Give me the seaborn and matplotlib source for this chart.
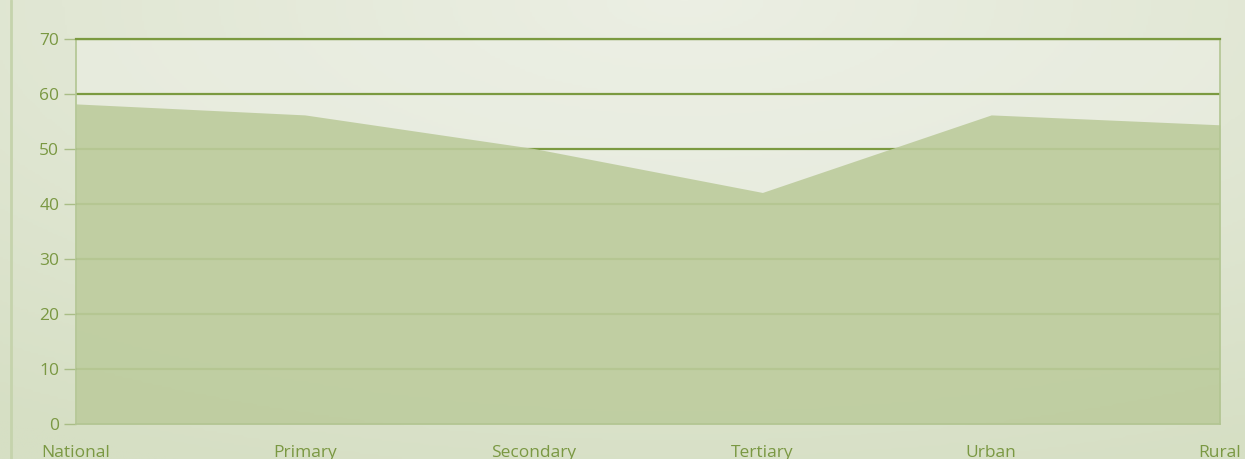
import numpy as np
import matplotlib
matplotlib.use("Agg")
import matplotlib.pyplot as plt
import seaborn as sns

categories = ["National", "Primary", "Secondary", "Tertiary", "Urban", "Rural"]
values = [58.2, 56.2, 50.1, 42.1, 56.2, 54.4]
y_ticks = [0, 10, 20, 30, 40, 50, 60, 70]

sns.set_theme(style="white")
plt.rcParams['font.family'] = ['Open Sans', 'DejaVu Sans']

text_col = "#7a9842"
grid_col = "#7b9a40"
fill_col = "#bccb9c"

fig = plt.figure(figsize=(12.45, 4.59), dpi=100)
fig.patch.set_facecolor("#dde5cf")

# soft radial backdrop like the original widget
bg = fig.add_axes([0, 0, 1, 1], zorder=-10)
yy, xx = np.mgrid[0:1:200j, 0:1:500j]
r = np.sqrt(((xx - 0.55) / 1.0) ** 2 + ((yy - 0.0) / 1.1) ** 2)
bg.imshow(r, cmap=matplotlib.colors.LinearSegmentedColormap.from_list(
    "bgc", ["#ecefe4", "#d6dfc4"]), aspect="auto", extent=[0, 1, 0, 1],
    origin="upper", vmin=0, vmax=1.0)
bg.axis("off")
bg.plot([0.009, 0.009], [0, 1], color="#c5d3ac", lw=2, transform=bg.transAxes)

ax = fig.add_axes([76 / 1245, 1 - 424 / 459, (1220 - 76) / 1245, (424 - 39) / 459])
ax.set_facecolor((0.93, 0.94, 0.90, 0.55))

x = np.arange(len(categories))
for t in y_ticks[1:]:
    ax.axhline(t, color=grid_col, lw=1.6, zorder=1)
sns.lineplot(x=x, y=values, ax=ax, color=fill_col, lw=0, zorder=2)
ax.fill_between(x, 0, values, color=fill_col, alpha=0.9, lw=0, zorder=2)

ax.set_xlim(0, len(categories) - 1)
ax.set_ylim(0, 70)
ax.set_yticks(y_ticks)
ax.set_xticks(x)
ax.set_xticklabels(categories)
ax.tick_params(axis="y", length=9, width=1, color="#a9bd86", pad=3,
               labelcolor=text_col, labelsize=12.5, left=True)
ax.tick_params(axis="x", length=0, pad=15, labelcolor=text_col, labelsize=12.5)

for side in ["left", "right", "bottom"]:
    ax.spines[side].set_color("#b2c592")
    ax.spines[side].set_linewidth(1.2)
ax.spines["top"].set_color(grid_col)
ax.spines["top"].set_linewidth(1.6)

fig.savefig("out.png", dpi=100, facecolor=fig.get_facecolor())
